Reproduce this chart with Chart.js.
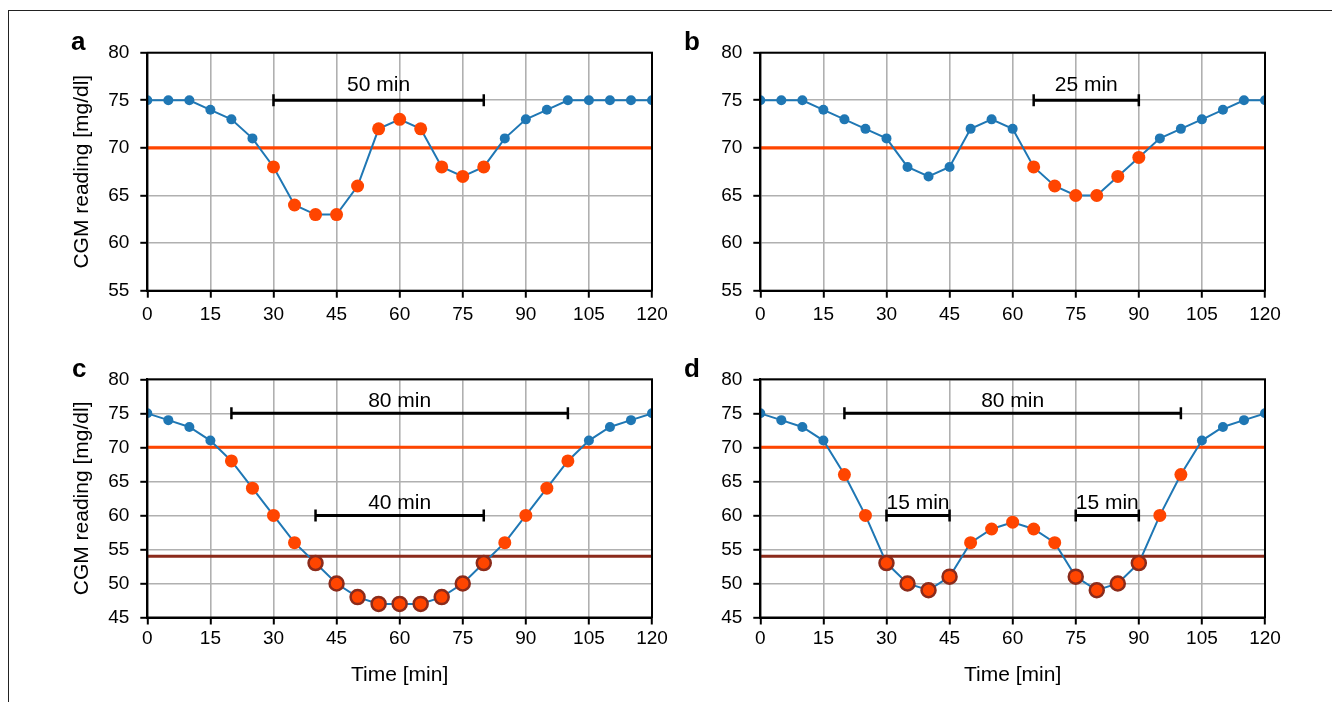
<!DOCTYPE html>
<html><head><meta charset="utf-8">
<script src="https://cdn.jsdelivr.net/npm/chart.js@4.4.1/dist/chart.umd.min.js"></script>
<style>
html,body{margin:0;padding:0;background:#fff;}
#wrap{position:relative;width:1332px;height:702px;overflow:hidden;font-family:'Liberation Sans',Arial,sans-serif;}
#frame{position:absolute;left:8px;top:10px;width:1340px;height:700px;border-left:1.5px solid #222;border-top:1.5px solid #222;}
canvas{position:absolute;}
.lbl{position:absolute;font-weight:bold;font-size:26px;line-height:26px;color:#000;}
</style></head>
<body><div id="wrap"><div id="frame"></div>
<canvas id="ca" width="610" height="301" style="left:70px;top:30px;width:610px;height:301px"></canvas>
<canvas id="cb" width="610" height="301" style="left:683px;top:30px;width:610px;height:301px"></canvas>
<canvas id="cc" width="610" height="332" style="left:70px;top:356px;width:610px;height:332px"></canvas>
<canvas id="cd" width="610" height="332" style="left:683px;top:356px;width:610px;height:332px"></canvas>
<div class="lbl" style="left:71px;top:28px">a</div>
<div class="lbl" style="left:684px;top:28px">b</div>
<div class="lbl" style="left:72px;top:355px">c</div>
<div class="lbl" style="left:684px;top:355px">d</div>
</div>
<script>
// ---- data ----
const timeMin = [0,5,10,15,20,25,30,35,40,45,50,55,60,65,70,75,80,85,90,95,100,105,110,115,120];
const timeTicks = [0,15,30,45,60,75,90,105,120];
const yTicksTop = [55,60,65,70,75,80];
const yTicksBottom = [45,50,55,60,65,70,75,80];
const cgmA = [75,75,75,74,73,71,68,64,63,63,66,72,73,72,68,67,68,71,73,74,75,75,75,75,75];
const cgmB = [75,75,75,74,73,72,71,68,67,68,72,73,72,68,66,65,65,67,69,71,72,73,74,75,75];
const cgmC = [75,74,73,71,68,64,60,56,53,50,48,47,47,47,48,50,53,56,60,64,68,71,73,74,75];
const cgmD = [75,74,73,71,66,60,53,50,49,51,56,58,59,58,56,51,49,50,53,60,66,71,73,74,75];
// detected events [start, end] in minutes
const level1A = [[30,80]];
const level2A = [];
const level1B = [[65,90]];
const level2B = [];
const level1C = [[20,100]];
const level2C = [[40,80]];
const level1D = [[20,100]];
const level2D = [[30,45],[75,90]];
const thresholdL1 = 70;
const thresholdL2 = 54;
const barLevelL1 = 75;
const barLevelL2 = 60;

// ---- styles ----
const FONT = "'Liberation Sans', Arial, sans-serif";
const BLUE = '#1f77b4', ORANGE = '#ff4500', DARKRED = '#8b2b1b';
Chart.defaults.font.family = FONT;
Chart.defaults.color = '#000';

function inAny(t, evs){ return evs.some(e => t >= e[0] && t <= e[1]); }

const framePlugin = {
  id: 'frameAndLabels',
  afterDatasetsDraw(chart, args, opts) {
    const {ctx, chartArea: a, scales} = chart;
    ctx.save();
    ctx.strokeStyle = '#000'; ctx.lineWidth = 2;
    ctx.strokeRect(a.left, a.top, a.right - a.left, a.bottom - a.top);
    ctx.fillStyle = '#000';
    ctx.font = '21px ' + FONT;
    ctx.textAlign = 'center'; ctx.textBaseline = 'alphabetic';
    (opts.bars || []).forEach(b => {
      const x = scales.x.getPixelForValue((b.s + b.e) / 2);
      const y = scales.y.getPixelForValue(b.y + 1);
      ctx.fillText((b.e - b.s) + ' min', x, y);
    });
    ctx.restore();
  }
};

function makePanel(id, cgm, yTicks, level1, level2, showY, showX, xH, padTop, xPad) {
  const lvl = timeMin.map(t => inAny(t, level2) ? 2 : (inAny(t, level1) ? 1 : 0));
  const pts = timeMin.map((t, i) => ({x: t, y: cgm[i]}));
  const yMin = yTicks[0], yMax = yTicks[yTicks.length - 1];
  const datasets = [];
  const thr = [thresholdL1];
  if (yMin < thresholdL2) thr.push(thresholdL2);
  thr.forEach((t, k) => datasets.push({
    data: [{x: 0, y: t}, {x: 120, y: t}],
    borderColor: k === 0 ? ORANGE : DARKRED,
    borderWidth: (k === 0 && !showX) ? 3.3 : 3,
    pointRadius: 0, order: 10, clip: 0
  }));
  datasets.push({
    data: pts, borderColor: BLUE, borderWidth: 2,
    pointRadius: lvl.map(l => l === 0 ? 5 : 0),
    pointBackgroundColor: BLUE, pointBorderWidth: 0,
    order: 6, clip: 0
  });
  datasets.push({
    data: pts.filter((p, i) => lvl[i] === 1), showLine: false,
    pointRadius: 6.5, pointBackgroundColor: ORANGE, pointBorderWidth: 0,
    order: 3, clip: 0
  });
  datasets.push({
    data: pts.filter((p, i) => lvl[i] === 2), showLine: false,
    pointRadius: 7, pointBackgroundColor: ORANGE, pointBorderColor: DARKRED, pointBorderWidth: 2.5,
    order: 2, clip: 0
  });
  const bars = [];
  level1.forEach(e => bars.push({s: e[0], e: e[1], y: barLevelL1}));
  level2.forEach(e => bars.push({s: e[0], e: e[1], y: barLevelL2}));
  bars.forEach(b => datasets.push({
    data: [{x: b.s, y: b.y}, {x: b.e, y: b.y}],
    borderColor: '#000', borderWidth: 3,
    pointStyle: 'line', pointRotation: 90, pointRadius: 6,
    pointBorderColor: '#000', pointBorderWidth: 2.5,
    order: 4, clip: 0
  }));
  const grid = {color: '#b0b0b0', lineWidth: 1.6, tickColor: '#000', tickLength: 7, tickWidth: 2};
  new Chart(document.getElementById(id), {
    type: 'line',
    data: {datasets},
    plugins: [framePlugin],
    options: {
      responsive: false, animation: false, events: [],
      layout: {padding: {top: padTop, right: 28, bottom: 0, left: 0}},
      plugins: {legend: {display: false}, tooltip: {enabled: false}, frameAndLabels: {bars}},
      scales: {
        x: {
          type: 'linear', min: 0, max: 120,
          afterBuildTicks: s => { s.ticks = timeTicks.map(v => ({value: v})); },
          ticks: {color: '#000', font: {size: 19}, padding: xPad, maxRotation: 0, autoSkip: false},
          grid, border: {color: '#000', width: 2},
          title: {display: showX, text: 'Time [min]', color: '#000', font: {size: 21}, padding: 0},
          afterFit: s => { s.height = xH; }
        },
        y: {
          type: 'linear', min: yMin, max: yMax,
          afterBuildTicks: s => { s.ticks = yTicks.map(v => ({value: v})); },
          ticks: {color: '#000', font: {size: 19}, padding: 11, autoSkip: false},
          grid, border: {color: '#000', width: 2},
          title: {display: showY, text: 'CGM reading [mg/dl]', color: '#000', font: {size: 21}, padding: 0},
          afterFit: s => { s.width = 77.3; }
        }
      }
    }
  });
}

makePanel('ca', cgmA, yTicksTop, level1A, level2A, true, false, 40.3, 22.7, 6);
makePanel('cb', cgmB, yTicksTop, level1B, level2B, false, false, 40.3, 22.7, 6);
makePanel('cc', cgmC, yTicksBottom, level1C, level2C, true, true, 70.5, 23.3, 3);
makePanel('cd', cgmD, yTicksBottom, level1D, level2D, false, true, 70.5, 23.3, 3);
</script>
</body></html>
